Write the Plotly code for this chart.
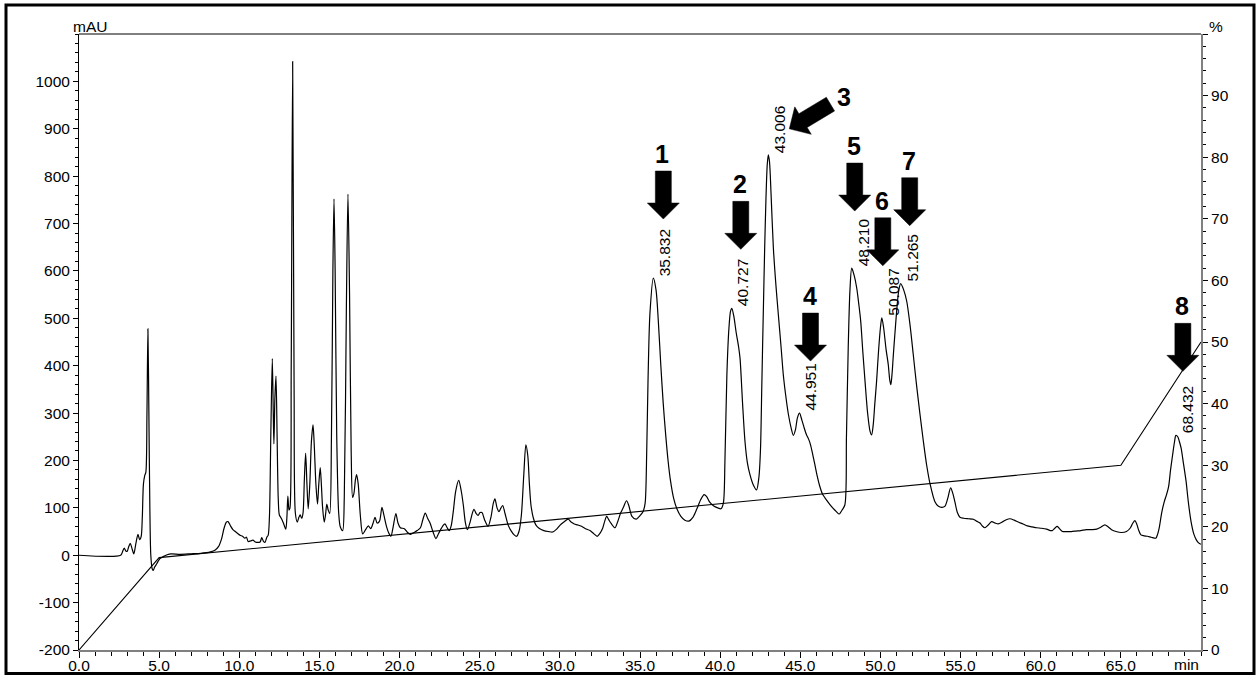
import numpy as np
import plotly.graph_objects as go

# ---- detector trace (retention time in min, absorbance in mAU) ----
base_time = [
    0.0, 2.6, 2.72, 2.82, 2.92, 3.0, 3.1, 3.2, 3.3, 3.42, 3.55, 3.68, 3.78, 3.88, 3.95,
    4.02, 4.1, 4.17, 4.24, 4.3, 4.36, 4.42, 4.48, 4.56, 4.63, 4.72, 4.85, 4.95, 5.05,
    5.25, 5.5, 5.75, 6.3, 7.0, 7.6, 8.2, 8.5, 8.7, 8.9, 9.05, 9.2, 9.3, 9.45, 9.6,
    9.75, 9.9, 10.05, 10.2, 10.35, 10.45, 10.55, 10.7, 10.85, 11.0, 11.15, 11.3, 11.4,
    11.5, 11.6, 11.72, 11.8, 11.88, 11.97,
    12.06, 12.12, 12.16, 12.22, 12.29, 12.36, 12.43, 12.5, 12.62, 12.75, 12.9, 12.97,
    13.03, 13.1, 13.16, 13.24, 13.33, 13.42, 13.5, 13.62, 13.72, 13.8, 13.9, 13.98,
    14.06, 14.14, 14.22, 14.3, 14.4, 14.5, 14.6, 14.68, 14.78, 14.88, 14.96, 15.05,
    15.12, 15.2, 15.3, 15.38, 15.46, 15.55, 15.64, 15.75, 15.84, 15.91, 15.98, 16.08,
    16.2, 16.3, 16.45, 16.55, 16.68, 16.78, 16.88, 16.98, 17.07, 17.15, 17.25, 17.32,
    17.42, 17.55, 17.7,
    17.9, 18.05, 18.2, 18.35, 18.47, 18.6, 18.75, 18.9, 19.02, 19.19, 19.35, 19.46,
    19.6, 19.77, 19.9, 20.05, 20.3, 20.5, 20.68, 20.9, 21.1, 21.3, 21.45, 21.6, 21.75,
    21.9, 22.1, 22.27, 22.42, 22.56, 22.7, 22.83, 22.97, 23.1, 23.22, 23.35, 23.5,
    23.69, 23.85, 23.98, 24.1, 24.23, 24.4, 24.55, 24.64, 24.78, 24.9, 25.02, 25.14,
    25.3, 25.52, 25.7, 25.85, 25.95, 26.08, 26.2, 26.3, 26.43, 26.58, 26.77, 26.95,
    27.15, 27.3, 27.45, 27.6, 27.75, 27.88, 28.0, 28.1, 28.2, 28.35, 28.5, 28.7, 29.0,
    29.3, 29.55, 29.8, 30.0, 30.25, 30.52, 30.7, 30.9, 31.1, 31.35, 31.6, 31.88, 32.1,
    32.33, 32.5, 32.67, 32.8, 32.92, 33.05, 33.2, 33.44, 33.6, 33.79, 33.95, 34.16,
    34.3, 34.5, 34.75, 34.9, 35.04, 35.2, 35.32, 35.42, 35.5, 35.62,
    36.0, 36.15, 36.3, 36.45, 36.6, 36.75, 36.9, 37.1, 37.3, 37.55, 37.8, 38.05, 38.3,
    38.55, 38.8, 39.0, 39.15, 39.35, 39.6, 39.85, 40.05, 40.2, 40.3, 40.42, 40.55, 40.65,
    40.85, 41.0, 41.15, 41.24, 41.4, 41.55, 41.7, 41.86, 42.05, 42.27, 42.42, 42.52,
    42.6, 42.69, 42.78, 42.86, 42.94,
    43.08, 43.18, 43.32, 43.48, 43.63, 43.8, 43.94, 44.1, 44.26, 44.42, 44.57, 44.7, 44.82,
    45.1, 45.25, 45.39, 45.52, 45.64, 45.78, 45.91, 46.05, 46.22, 46.4, 46.63, 46.85,
    47.05, 47.25, 47.43, 47.6, 47.78, 47.88, 47.99, 48.1,
    48.35, 48.52, 48.65, 48.77, 48.9, 49.04, 49.2, 49.35, 49.45, 49.55, 49.65, 49.76,
    49.88, 50.0,
    50.2, 50.35, 50.49, 50.58, 50.65, 50.73, 50.8, 50.9, 51.05, 51.15,
    51.45, 51.64, 51.85, 52.05, 52.25, 52.47, 52.68, 52.88, 53.1, 53.4, 53.6, 53.82,
    54.02, 54.2, 54.38, 54.52, 54.65, 54.8, 54.96, 55.2, 55.48, 55.8, 56.0, 56.21, 56.35,
    56.52, 56.7, 56.94, 57.15, 57.35, 57.6, 57.85, 58.08, 58.35, 58.6, 58.9, 59.16,
    59.45, 59.74, 60.05, 60.37, 60.6, 60.72, 60.88, 61.03, 61.2, 61.36, 61.6, 61.9,
    62.2, 62.5, 62.86, 63.2, 63.5, 63.75, 64.0, 64.2, 64.42, 64.7, 65.04, 65.35, 65.6,
    65.75, 65.88, 66.0, 66.12, 66.25, 66.45, 66.66, 66.9, 67.18, 67.3, 67.39, 67.55,
    67.71, 67.85, 67.98, 68.1, 68.23, 68.35,
    68.55, 68.65, 68.76, 68.9, 69.07, 69.2, 69.38, 69.55, 69.7, 69.85, 70.0,
]
base_mau = [
    0, 0, 8, 15, 9, 8, 18, 25, 15, 3, 25, 44, 33, 40, 80,
    150, 168, 175, 300, 478, 300, 100, 0, -28, -32, -25, -18, -12, -7,
    -3, 1, 3, 2, 3, 4, 7, 11, 18, 35, 57, 70, 71, 62, 54,
    50, 46, 42, 40, 36, 38, 29, 30, 32, 28, 27, 28, 37,
    30, 27, 38, 42, 80, 260,
    415, 300, 235, 330, 378, 250, 120, 85, 78, 68, 55, 80,
    125, 95, 100, 400, 1042, 350, 88, 70, 80, 85, 78, 90,
    160, 215, 150, 98, 150, 240, 275, 230, 150, 108, 150, 185,
    150, 100, 70, 85, 108, 95, 88, 250, 600, 752, 600, 250,
    90, 60, 52, 120, 520, 762, 550, 220, 122, 130, 160, 170,
    150, 85, 45,
    55, 62, 56, 68, 80, 68, 72, 101, 85, 60, 45, 40,
    60, 88, 68, 58, 56, 48, 44, 48, 52, 58, 75, 89, 78,
    68, 48, 35, 45, 54, 62, 66, 58, 52, 62, 92, 135,
    158, 135, 105, 70, 54, 70, 90, 97, 88, 84, 90, 90,
    75, 61, 80, 110, 119, 100, 92, 98, 105, 88, 64, 52,
    43, 40, 50, 85, 170, 233, 210, 150, 105, 78, 64, 57, 52,
    50, 49, 55, 63, 70, 76, 70, 66, 64, 61, 56, 52, 46,
    40, 46, 57, 72, 82, 75, 67, 58, 70, 89, 100, 115,
    105, 82, 76, 80, 85, 93, 110, 220, 367, 510,
    560, 490, 400, 320, 255, 200, 158, 120, 98, 82, 74, 72, 80,
    98, 118, 128, 124, 112, 104, 100, 98, 110, 200, 380, 480, 515,
    505, 470, 440, 416, 320, 240, 195, 170, 150, 138, 165, 226,
    360, 508, 650, 754, 825,
    830, 760, 649, 570, 508, 440, 381, 335, 297, 270, 253, 265, 290,
    285, 268, 254, 245, 233, 212, 191, 168, 145, 128, 117, 107,
    99, 92, 87, 95, 106, 250, 437, 560,
    592, 564, 530, 494, 430, 367, 300, 262, 254, 275, 320, 367,
    430, 480,
    480, 435, 402, 370, 360, 385, 420, 466, 530, 560,
    560, 536, 485, 423, 360, 297, 240, 191, 150, 113, 104, 101,
    103, 120, 142, 130, 112, 90, 80, 78, 77, 76, 72, 68, 62,
    58, 63, 71, 68, 66, 70, 75, 77, 74, 70, 66, 62,
    60, 58, 57, 55, 52, 52, 57, 61, 55, 50, 50, 50,
    51, 52, 54, 54, 55, 59, 64, 60, 54, 50, 48, 50, 58,
    68, 73, 65, 52, 43, 41, 40, 38, 36, 45, 57, 90,
    113, 128, 145, 180, 212, 240,
    250, 240, 226, 195, 156, 115, 71, 45, 33, 26, 23,
]

# ---- identified peaks ----
peak_no = ["1", "2", "3", "4", "5", "6", "7", "8"]
peak_rt = [35.832, 40.727, 43.006, 44.951, 48.210, 50.087, 51.265, 68.432]
peak_mau = [585, 521, 845, 300, 606, 501, 573, 253]

# ---- solvent gradient program (%B) ----
grad_time = [0.0, 5.0, 65.0, 70.0]
grad_pct = [0, 15, 30, 50]

# ---- axis ticks ----
x_tick_vals = [0, 5, 10, 15, 20, 25, 30, 35, 40, 45, 50, 55, 60, 65]
x_tick_text = ["0.0", "5.0", "10.0", "15.0", "20.0", "25.0", "30.0", "35.0",
               "40.0", "45.0", "50.0", "55.0", "60.0", "65.0"]
y_tick_vals = [-200, -100, 0, 100, 200, 300, 400, 500, 600, 700, 800, 900, 1000]
y_tick_text = ["-200", "-100", "0", "100", "200", "300", "400", "500", "600",
               "700", "800", "900", "1000"]
y2_tick_vals = [0, 10, 20, 30, 40, 50, 60, 70, 80, 90, 100]
y2_tick_text = ["0", "10", "20", "30", "40", "50", "60", "70", "80", "90", ""]

# full trace: baseline points plus the apex of every identified peak
t_all = np.array(base_time + peak_rt, dtype=float)
v_all = np.array(base_mau + peak_mau, dtype=float)
order = np.argsort(t_all, kind="stable")
t_all, v_all = t_all[order], v_all[order]

W, H = 1258, 677
L, R, T, B = 79, 57, 34, 27
PW, PH = W - L - R, H - T - B
FONT = "Arial, 'Liberation Sans', Helvetica, sans-serif"
TICK_FONT = dict(family=FONT, size=15.5, color="black")


def px_to_paper_x(px):
    return (px - L) / PW


def px_to_paper_y(py):
    return (H - B - py) / PH


fig = go.Figure()

fig.add_trace(go.Scatter(
    x=t_all, y=v_all, mode="lines",
    line=dict(color="black", width=1.2, shape="spline", smoothing=0.8),
    hoverinfo="skip", yaxis="y",
))

fig.add_trace(go.Scatter(
    x=grad_time, y=grad_pct, mode="lines",
    line=dict(color="black", width=1.1),
    hoverinfo="skip", yaxis="y2",
))

# block arrows (pixel geometry, anchored at each peak apex)
ARROW = [(0, 0), (-16, 16), (-8, 16), (-8, 48), (8, 48), (8, 16), (16, 16)]
# tip offset from apex (screen px: right, up) and tilt of the arrow
arrow_tip = {
    "1": (10, 59), "2": (9, 59), "3": (21, 26), "4": (11, 52),
    "5": (3, 57), "6": (1, 52), "7": (9, 58), "8": (7, 64),
}
arrow_tilt = {"3": -59.0}
# number position relative to the arrow tip (screen px: right, up)
number_off = {"3": (55, 32)}

shapes = []
annotations = []
for n, rt, h in zip(peak_no, peak_rt, peak_mau):
    dx, dy = arrow_tip[n]
    ang = np.deg2rad(arrow_tilt.get(n, 0.0))
    ca, sa = np.cos(ang), np.sin(ang)
    pts = [(dx + x * ca - y * sa, dy + x * sa + y * ca) for x, y in ARROW]
    path = "M " + " L ".join(f"{x:.2f},{y:.2f}" for x, y in pts) + " Z"
    shapes.append(dict(
        type="path", xref="x", yref="y", xsizemode="pixel", ysizemode="pixel",
        xanchor=rt, yanchor=h, path=path,
        fillcolor="black", line=dict(color="black", width=0.5), layer="above",
    ))
    ox, oy = number_off.get(n, (-1, 65))
    annotations.append(dict(
        x=rt, y=h, xref="x", yref="y", text=f"<b>{n}</b>", showarrow=False,
        xanchor="center", yanchor="middle", xshift=dx + ox, yshift=dy + oy,
        font=dict(family=FONT, size=25, color="black"),
    ))
    annotations.append(dict(
        x=rt, y=h, xref="x", yref="y", text=f"{rt:.3f}", showarrow=False,
        textangle=-90, xanchor="left", yanchor="bottom", xshift=1, yshift=0,
        font=dict(family=FONT, size=15.5, color="black"),
    ))

# axis captions
annotations.append(dict(x=px_to_paper_x(71), y=1, xref="paper", yref="paper", text="mAU",
                        showarrow=False, xanchor="left", yanchor="bottom", yshift=-3,
                        font=dict(family=FONT, size=15.5, color="black")))
annotations.append(dict(x=px_to_paper_x(1207), y=1, xref="paper", yref="paper", text="%",
                        showarrow=False, xanchor="left", yanchor="bottom", yshift=-3,
                        font=dict(family=FONT, size=15.5, color="black")))
annotations.append(dict(x=70, y=0, xref="x", yref="paper", text="min",
                        showarrow=False, xanchor="right", yanchor="top", yshift=-4,
                        font=dict(family=FONT, size=15.5, color="black")))

# top edge of the plot box
shapes.append(dict(type="line", xref="paper", yref="paper", x0=0, x1=1, y0=1, y1=1,
                   line=dict(color="black", width=1)))
# outer frame
shapes.append(dict(type="rect", xref="paper", yref="paper",
                   x0=px_to_paper_x(6), x1=px_to_paper_x(1254),
                   y0=px_to_paper_y(673.5), y1=px_to_paper_y(5),
                   line=dict(color="black", width=3), fillcolor="rgba(0,0,0,0)"))

fig.update_layout(
    template="none",
    width=W, height=H,
    margin=dict(l=L, r=R, t=T, b=B, pad=0, autoexpand=False),
    paper_bgcolor="white", plot_bgcolor="white",
    showlegend=False,
    font=dict(family=FONT, size=15.5, color="black"),
    xaxis=dict(
        range=[0, 70], tickmode="array", tickvals=x_tick_vals, ticktext=x_tick_text,
        ticks="outside", ticklen=6, tickwidth=1, tickcolor="black", tickfont=TICK_FONT,
        ticklabelstandoff=-6,
        showline=True, linecolor="#808080", linewidth=2, automargin=False,
        showgrid=False, zeroline=False,
        minor=dict(tickmode="linear", tick0=0, dtick=1, ticks="outside", ticklen=4,
                   tickwidth=1, tickcolor="black", showgrid=False),
    ),
    yaxis=dict(
        range=[-200, 1100], tickmode="array", tickvals=y_tick_vals, ticktext=y_tick_text,
        ticks="outside", ticklen=5, tickwidth=1, tickcolor="black", tickfont=TICK_FONT,
        showline=True, linecolor="black", linewidth=1, automargin=False,
        showgrid=False, zeroline=False,
        minor=dict(tickmode="linear", tick0=0, dtick=20, ticks="outside", ticklen=3,
                   tickwidth=1, tickcolor="black", showgrid=False),
    ),
    yaxis2=dict(
        range=[0, 100], overlaying="y", side="right",
        tickmode="array", tickvals=y2_tick_vals, ticktext=y2_tick_text,
        ticks="outside", ticklen=5, tickwidth=1, tickcolor="black", tickfont=TICK_FONT,
        showline=True, linecolor="#808080", linewidth=2, automargin=False,
        showgrid=False, zeroline=False,
        minor=dict(tickmode="linear", tick0=0, dtick=2, ticks="outside", ticklen=3,
                   tickwidth=1, tickcolor="black", showgrid=False),
    ),
    shapes=shapes,
    annotations=annotations,
)

fig.write_html("out.html")
